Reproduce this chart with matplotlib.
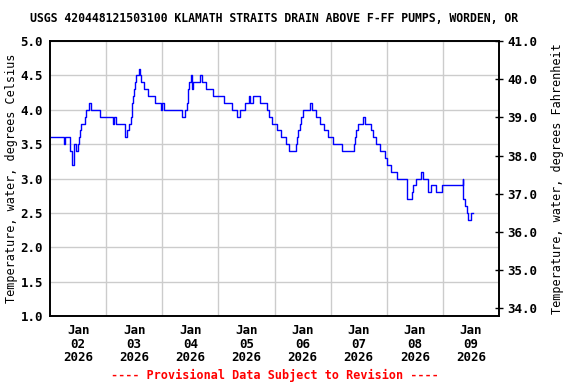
import numpy as np
import matplotlib
matplotlib.use("Agg")
import matplotlib.pyplot as plt

# hours since 2026-01-02 00:00, water temperature (deg C), stepwise readings
hours = [0, 6.2, 6.6, 8.6, 9.2, 10.2, 11.2, 11.8, 12.3, 12.8, 13.4, 14.8, 15.4, 16.8, 17.7,
         21.5, 26.9, 27.3, 28.4, 32.2, 32.8, 33.8, 34.5, 35.0, 35.2, 35.5, 36.0, 36.3, 36.7,
         38.0, 38.4, 39.1, 40.2, 42.1, 45.1, 47.5, 47.9, 48.9, 56.4, 57.7, 58.5, 58.8, 59.2,
         59.6, 60.2, 60.8, 61.2, 64.2, 65.2, 66.9, 69.5, 74.2, 77.8, 79.9, 81.1, 83.3, 85.3,
         85.6, 86.9, 89.6, 92.6, 93.8, 95.0, 97.2, 98.9, 101.0, 102.2, 105.0, 105.5, 106.2,
         106.7, 107.3, 108.2, 111.0, 112.2, 113.9, 115.3, 117.2, 118.9, 121.1, 125.0, 130.0,
         130.5, 131.0, 131.8, 134.0, 134.8, 137.4, 138.3, 139.3, 141.0, 143.1, 144.1, 145.7,
         148.2, 152.7, 154.8, 155.4, 156.5, 158.5, 159.3, 161.7, 163.1, 164.9, 167.8, 176.4,
         176.8, 177.3, 178.2, 178.8, 180.2, 180.8]
temp_c = [3.6, 3.5, 3.6, 3.4, 3.2, 3.5, 3.4, 3.5, 3.6, 3.7, 3.8, 3.9, 4.0, 4.1, 4.0,
          3.9, 3.8, 3.9, 3.8, 3.6, 3.7, 3.8, 3.9, 4.0, 4.1, 4.2, 4.3, 4.4, 4.5,
          4.6, 4.5, 4.4, 4.3, 4.2, 4.1, 4.0, 4.1, 4.0, 3.9, 4.0, 4.1, 4.2, 4.3,
          4.4, 4.5, 4.3, 4.4, 4.5, 4.4, 4.3, 4.2, 4.1, 4.0, 3.9, 4.0, 4.1, 4.2,
          4.1, 4.2, 4.1, 4.0, 3.9, 3.8, 3.7, 3.6, 3.5, 3.4, 3.5, 3.6, 3.7,
          3.8, 3.9, 4.0, 4.1, 4.0, 3.9, 3.8, 3.7, 3.6, 3.5, 3.4, 3.5,
          3.6, 3.7, 3.8, 3.9, 3.8, 3.7, 3.6, 3.5, 3.4, 3.3, 3.2, 3.1,
          3.0, 2.7, 2.8, 2.9, 3.0, 3.1, 3.0, 2.8, 2.9, 2.8, 2.9, 3.0,
          2.7, 2.6, 2.5, 2.4, 2.5, 2.5]

day_labels = ['Jan\n02\n2026', 'Jan\n03\n2026', 'Jan\n04\n2026', 'Jan\n05\n2026',
              'Jan\n06\n2026', 'Jan\n07\n2026', 'Jan\n08\n2026', 'Jan\n09\n2026']
c_ticks = [1.0, 1.5, 2.0, 2.5, 3.0, 3.5, 4.0, 4.5, 5.0]
f_ticks = [34, 35, 36, 37, 38, 39, 40, 41]

font = {'family': 'DejaVu Sans Mono', 'weight': 'bold'}
plt.rcParams['font.family'] = 'DejaVu Sans Mono'
plt.rcParams['font.weight'] = 'bold'

fig = plt.figure(figsize=(5.76, 3.84), dpi=100)
ax = fig.add_axes([50 / 576, 1 - 316 / 384, 449 / 576, 275 / 384])

ax.plot(hours, temp_c, drawstyle='steps-post', color='#0000ff', lw=1.0, zorder=3)

ax.set_xlim(0, 192)
ax.set_ylim(1.0, 5.0)

# labels at noon, grid lines at midnight
ax.set_xticks([12 + 24 * i for i in range(len(day_labels))])
ax.set_xticklabels(day_labels, fontsize=9, linespacing=1.05)
ax.set_xticks([24 * i for i in range(1, 8)], minor=True)
ax.tick_params(axis='x', which='both', length=0, pad=6)
ax.grid(True, axis='x', which='minor', color='#cccccc', lw=1)

ax.set_yticks(c_ticks)
ax.set_yticklabels(['%.1f' % v for v in c_ticks], fontsize=9)
ax.tick_params(axis='y', length=0, pad=5)
ax.grid(True, axis='y', which='major', color='#cccccc', lw=1)
ax.set_ylabel('Temperature, water, degrees Celsius', fontsize=8.5, labelpad=1.5)

ax2 = ax.twinx()
ax2.set_ylim(1.0 * 1.8 + 32, 5.0 * 1.8 + 32)
ax2.set_yticks(f_ticks)
ax2.set_yticklabels(['%.1f' % v for v in f_ticks], fontsize=9)
ax2.tick_params(axis='y', direction='inout', length=6, width=1, pad=3)
ax2.set_ylabel('Temperature, water, degrees Fahrenheit', fontsize=8.5, labelpad=10)

for a in (ax, ax2):
    for s in a.spines.values():
        s.set_linewidth(1.2)

fig.text(274.5 / 576, 1 - 18 / 384,
         'USGS 420448121503100 KLAMATH STRAITS DRAIN ABOVE F-FF PUMPS, WORDEN, OR',
         ha='center', va='center', fontsize=8.3, **font)
fig.text(275 / 576, 1 - 375 / 384,
         '---- Provisional Data Subject to Revision ----',
         ha='center', va='center', fontsize=8.5, color='red', **font)

fig.savefig('out.png', dpi=100)
